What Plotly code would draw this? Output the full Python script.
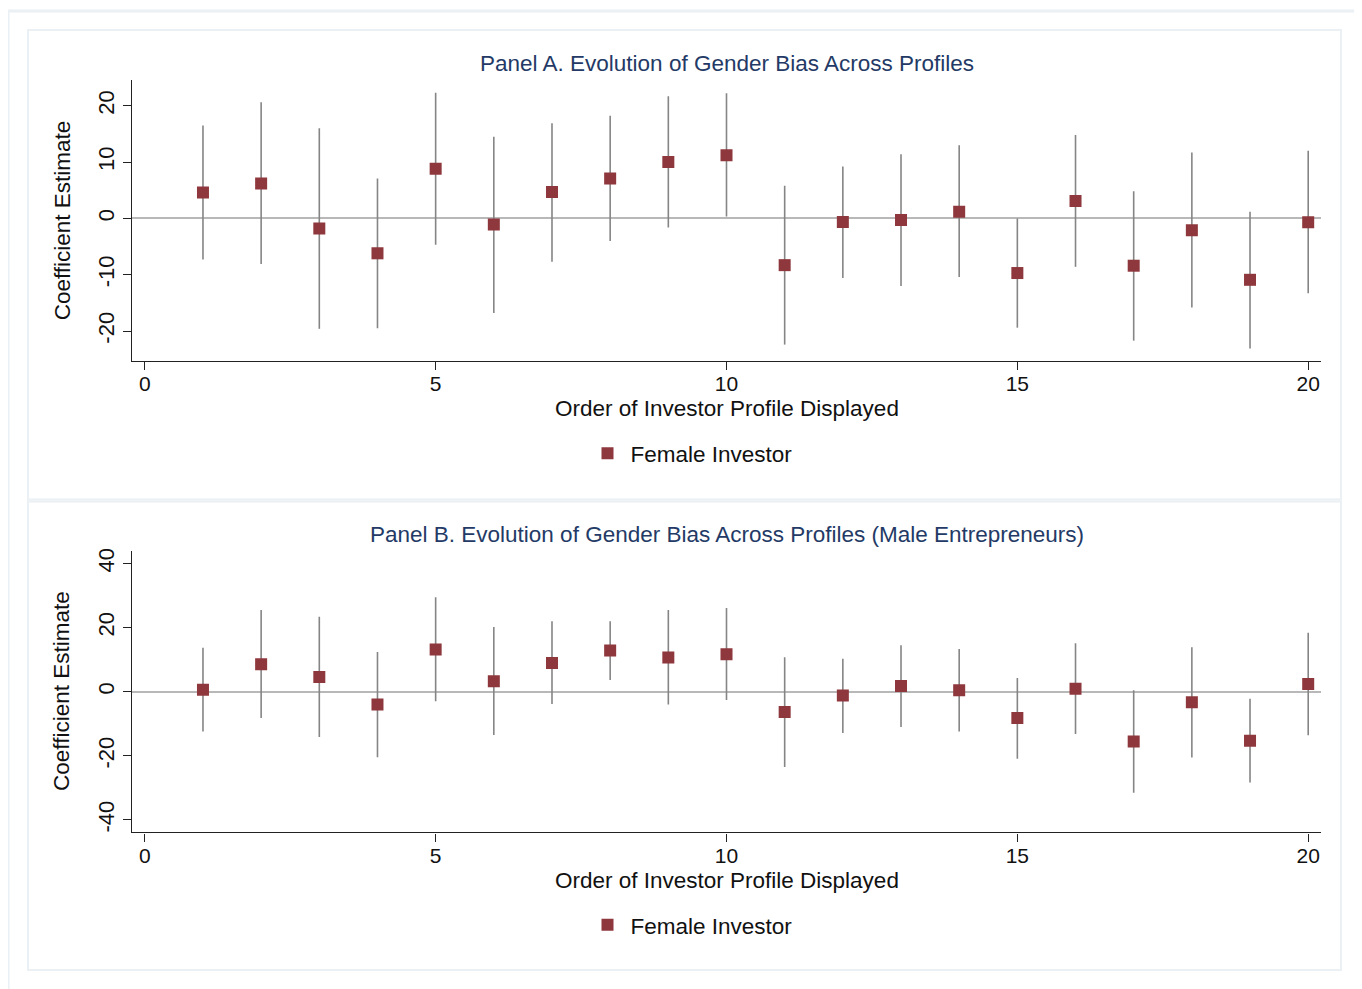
import plotly.graph_objects as go

# ---------------- data ----------------
order = list(range(1, 21))

a_coef = [4.6, 6.2, -1.8, -6.2, 8.8, -1.1, 4.7, 7.1, 10.0, 11.2,
          -8.3, -0.65, -0.3, 1.2, -9.7, 3.1, -8.4, -2.1, -10.9, -0.7]
a_hi = [16.5, 20.6, 16.0, 7.1, 22.3, 14.5, 16.9, 18.2, 21.7, 22.2,
        5.8, 9.2, 11.4, 13.0, 0.0, 14.8, 4.8, 11.7, 1.2, 12.0]
a_lo = [-7.3, -8.1, -19.6, -19.5, -4.7, -16.8, -7.7, -4.0, -1.6, 0.35,
        -22.4, -10.6, -12.0, -10.4, -19.4, -8.6, -21.7, -15.8, -23.1, -13.3]

b_coef = [0.6, 8.6, 4.6, -4.0, 13.2, 3.3, 9.0, 12.9, 10.7, 11.7,
          -6.3, -1.2, 1.8, 0.5, -8.2, 0.9, -15.5, -3.3, -15.3, 2.4]
b_hi = [13.7, 25.5, 23.4, 12.4, 29.5, 20.2, 22.0, 22.0, 25.5, 26.1,
        10.8, 10.3, 14.5, 13.3, 4.3, 15.1, 0.5, 13.9, -2.2, 18.4]
b_lo = [-12.4, -8.2, -14.1, -20.4, -3.0, -13.5, -3.8, 3.7, -4.0, -2.6,
        -23.5, -12.9, -11.0, -12.4, -20.9, -13.2, -31.5, -20.5, -28.3, -13.6]

x_ticks = [0, 5, 10, 15, 20]
a_yticks = [-20, -10, 0, 10, 20]
a_ylabels = ["-20", "-10", "0", "10", "20"]
b_yticks = [-40, -20, 0, 20, 40]
b_ylabels = ["-40", "-20", "0", "20", "40"]

title_a = "Panel A. Evolution of Gender Bias Across Profiles"
title_b = "Panel B. Evolution of Gender Bias Across Profiles (Male Entrepreneurs)"
x_title = "Order of Investor Profile Displayed"
y_title = "Coefficient Estimate"
series_name = "Female Investor"

# ---------------- style ----------------
OFF = 8                      # page body margin
W, H = 1362 - OFF, 989 - OFF
FONT = "Liberation Sans, Arial, Helvetica, sans-serif"
MAROON = "#8e373c"
CI_GRAY = "#858585"
ZERO_GRAY = "#b8b8b8"
NAVY = "#243a66"
BORDER = "#eaf0f3"
TXT = "#111111"


def px(xp):
    return (xp - OFF) / W


def py(yp):
    return 1 - (yp - OFF) / H


fig = go.Figure()


def add_panel(coef, hi, lo, xa, ya, legend):
    plus = [h - c for h, c in zip(hi, coef)]
    minus = [c - l for c, l in zip(coef, lo)]
    fig.add_trace(go.Scatter(
        x=order, y=coef, mode="markers", xaxis=xa, yaxis=ya,
        marker=dict(size=1, color="rgba(0,0,0,0)"),
        error_y=dict(type="data", symmetric=False, array=plus, arrayminus=minus,
                     color=CI_GRAY, thickness=1.6, width=0),
        showlegend=False, hoverinfo="skip"))
    fig.add_trace(go.Scatter(
        x=order, y=coef, mode="markers", xaxis=xa, yaxis=ya,
        marker=dict(symbol="square", size=12, color=MAROON),
        name=series_name, legend=legend, showlegend=True))


add_panel(a_coef, a_hi, a_lo, "x", "y", "legend")
add_panel(b_coef, b_hi, b_lo, "x2", "y2", "legend2")

xdom = [px(132), px(1321)]
axis_common = dict(showgrid=False, showline=True, linecolor="#222222", linewidth=1.3,
                   ticks="outside", ticklen=8, tickwidth=1.3, tickcolor="#222222")
xfont = dict(family=FONT, size=21, color=TXT)
yfont = dict(family=FONT, size=22, color=TXT)

fig.update_layout(
    xaxis=dict(domain=xdom, range=[-0.22, 20.22], tickvals=x_ticks, anchor="y",
               zeroline=False, tickfont=xfont, ticklabelstandoff=-4, **axis_common),
    yaxis=dict(domain=[py(359), py(77)], range=[-25.3, 24.6], tickvals=a_yticks,
               ticktext=a_ylabels, tickfont=yfont,
               tickangle=-90, anchor="x", zeroline=True, zerolinecolor=ZERO_GRAY,
               zerolinewidth=2, **axis_common),
    xaxis2=dict(domain=xdom, range=[-0.22, 20.22], tickvals=x_ticks, anchor="y2",
                zeroline=False, tickfont=xfont, ticklabelstandoff=-4, **axis_common),
    yaxis2=dict(domain=[py(832), py(550)], range=[-43.9, 43.8], tickvals=b_yticks,
                ticktext=b_ylabels, tickfont=yfont,
                tickangle=-90, anchor="x2", zeroline=True, zerolinecolor=ZERO_GRAY,
                zerolinewidth=2, **axis_common),
)

legend_common = dict(orientation="h", xanchor="center", yanchor="middle",
                     bgcolor="rgba(0,0,0,0)", itemwidth=36,
                     font=dict(family=FONT, size=22.5, color=TXT))
fig.update_layout(
    legend=dict(x=px(691), y=py(452), **legend_common),
    legend2=dict(x=px(691), y=py(925), **legend_common),
)

annotations = []
for txt, xc, yc in [(title_a, 727, 61), (title_b, 727, 533)]:
    annotations.append(dict(text=txt, x=px(xc), y=py(yc), xref="paper", yref="paper",
                            showarrow=False, xanchor="center", yanchor="middle",
                            font=dict(family=FONT, size=22.5, color=NAVY)))
for yc in [407, 880]:
    annotations.append(dict(text=x_title, x=px(727), y=py(yc), xref="paper", yref="paper",
                            showarrow=False, xanchor="center", yanchor="middle",
                            font=dict(family=FONT, size=22.5, color=TXT)))
for yc in [218, 690]:
    annotations.append(dict(text=y_title, x=px(62), y=py(yc), xref="paper", yref="paper",
                            showarrow=False, xanchor="center", yanchor="middle",
                            textangle=-90,
                            font=dict(family=FONT, size=22.5, color=TXT)))

shapes = [
    dict(type="line", xref="paper", yref="paper", x0=0, x1=1, y0=1, y1=1,
         line=dict(color=BORDER, width=3)),
    dict(type="line", xref="paper", yref="paper", x0=0, x1=0, y0=1, y1=0,
         line=dict(color=BORDER, width=3)),
    dict(type="rect", xref="paper", yref="paper", x0=px(28), x1=px(1341), y0=py(27), y1=py(498),
         line=dict(color=BORDER, width=2)),
    dict(type="rect", xref="paper", yref="paper", x0=px(28), x1=px(1341), y0=py(500), y1=py(970),
         line=dict(color=BORDER, width=2)),
]

fig.update_layout(
    width=W, height=H, autosize=False,
    margin=dict(l=0, r=0, t=0, b=0),
    paper_bgcolor="white", plot_bgcolor="white",
    annotations=annotations, shapes=shapes,
    font=dict(family=FONT),
)

fig.write_html("out.html")
